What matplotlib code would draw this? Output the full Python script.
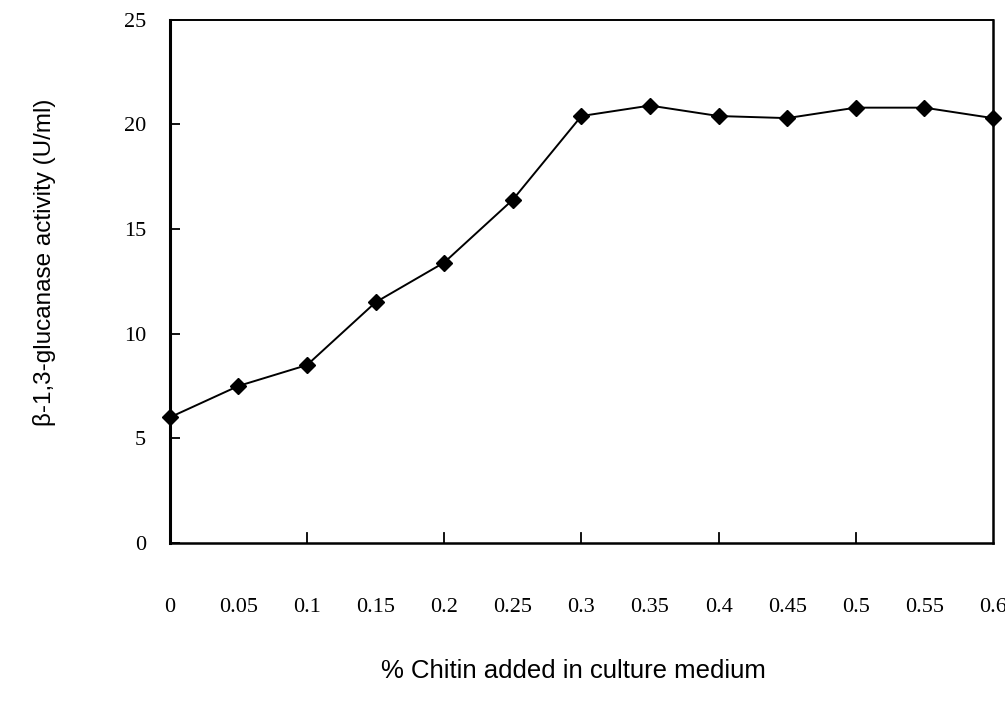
import numpy as np
import matplotlib.pyplot as plt

# % chitin added vs beta-1,3-glucanase activity
chitin = [0, 0.05, 0.1, 0.15, 0.2, 0.25, 0.3, 0.35, 0.4, 0.45, 0.5, 0.55, 0.6]
activity = [6.0, 7.5, 8.5, 11.5, 13.4, 16.4, 20.4, 20.9, 20.4, 20.3, 20.8, 20.8, 20.3]

x_labels = ['0', '0.05', '0.1', '0.15', '0.2', '0.25', '0.3',
            '0.35', '0.4', '0.45', '0.5', '0.55', '0.6']
y_ticks = [0, 5, 10, 15, 20, 25]

serif = ['Liberation Serif', 'DejaVu Serif']
sans = ['Liberation Sans', 'DejaVu Sans']

fig = plt.figure(figsize=(10.05, 7.06), dpi=100)
ax = fig.add_axes([0.169, 0.231, 0.819, 0.741])

ax.plot(chitin, activity, color='black', linewidth=1.4,
        marker='D', markersize=8, markerfacecolor='black',
        markeredgecolor='black', clip_on=False, zorder=3)

ax.set_xlim(0, 0.6)
ax.set_ylim(0, 25)

# y axis: labels at every 5, short inward ticks
ax.set_yticks(y_ticks)
ax.set_yticklabels([str(v) for v in y_ticks], fontfamily=serif, fontsize=16)
ax.tick_params(axis='y', direction='in', length=7, width=1.3, pad=17)

# x axis: labels every 0.05, drawn well below the frame
ax.set_xticks(chitin)
ax.set_xticklabels(x_labels, fontfamily=serif, fontsize=16)
ax.tick_params(axis='x', direction='in', length=0, pad=40)
# inner tick marks only every 0.1
for xt in [0.1, 0.2, 0.3, 0.4, 0.5]:
    ax.plot([xt, xt], [0, 0.45], color='black', linewidth=1.3, clip_on=False)

for side, lw in [('left', 2.2), ('bottom', 1.8), ('top', 1.4), ('right', 1.8)]:
    ax.spines[side].set_linewidth(lw)
    ax.spines[side].set_color('black')

fig.text(44 / 1005, 1 - 262 / 706, 'β-1,3-glucanase activity (U/ml)',
         rotation=90, ha='center', va='center', fontsize=17.5, fontfamily=sans)
fig.text(573 / 1005, 1 - 671 / 706, '% Chitin added in culture medium',
         ha='center', va='center', fontsize=18.5, fontfamily=sans)

fig.savefig('out.png', dpi=100)
